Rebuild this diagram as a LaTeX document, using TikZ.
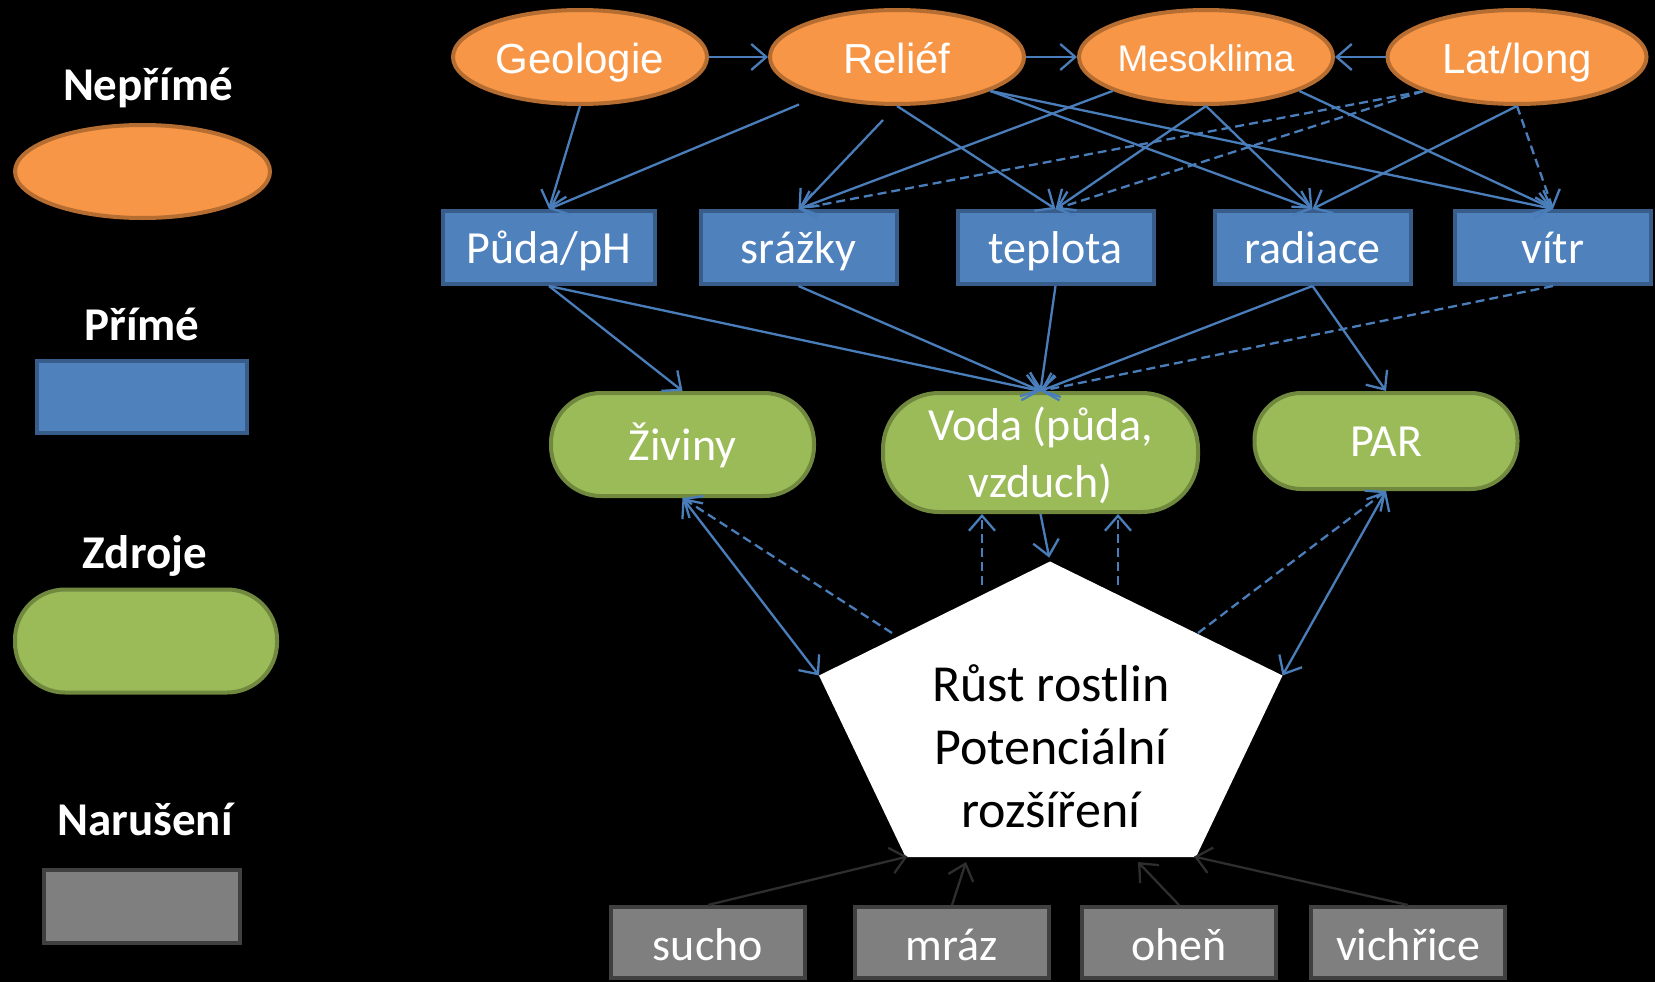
\documentclass[tikz,border=0pt]{standalone}
\usepackage{fontspec}
\setmainfont{Carlito}
\newfontfamily\arialf{Liberation Sans}
\usetikzlibrary{arrows.meta,calc,shapes.geometric}
\definecolor{orfill}{HTML}{F79646}
\definecolor{ordraw}{HTML}{B66D31}
\definecolor{blfill}{HTML}{4F81BD}
\definecolor{bldraw}{HTML}{385D8A}
\definecolor{grfill}{HTML}{9BBB59}
\definecolor{grdraw}{HTML}{71893F}
\definecolor{gyfill}{HTML}{7F7F7F}
\definecolor{gydraw}{HTML}{404040}
\definecolor{conn}{HTML}{4A7EBB}
\definecolor{dconn}{HTML}{2E2E2E}
\begin{document}
\begin{tikzpicture}[x=1pt,y=-1pt,
  >={Straight Barb[length=15pt,width=26pt]},
  indirect/.style={ellipse, fill=orfill, draw=ordraw, line width=4pt, minimum width=254pt, minimum height=94pt, inner sep=0pt, text=white, text height=32.4pt, text depth=0pt, font=\arialf\fontsize{42}{50}\selectfont},
  direct/.style={rectangle, fill=blfill, draw=bldraw, line width=4pt, minimum width=196pt, minimum height=73pt, inner sep=0pt, text=white, text height=32pt, text depth=0pt, font=\fontsize{46}{55}\selectfont},
  resource/.style={rectangle, rounded corners=50pt, fill=grfill, draw=grdraw, line width=4pt, minimum width=263pt, minimum height=103pt, inner sep=0pt, text=white, align=center, text height=31.2pt, text depth=0pt, font=\fontsize{46}{57}\selectfont},
  disturb/.style={rectangle, fill=gyfill, draw=gydraw, line width=4pt, minimum width=194pt, minimum height=71pt, inner sep=0pt, text=white, text height=36pt, text depth=0pt, font=\fontsize{46}{55}\selectfont},
  legtitle/.style={text=white, inner sep=0pt, text height=30.3pt, text depth=0pt, font=\bfseries\fontsize{47}{56}\selectfont},
  arr/.style={draw=conn, line width=2.3pt, ->},
  darr/.style={draw=dconn, line width=2.3pt, ->},
  dsh/.style={dash pattern=on 9pt off 5pt}
]
\fill[black] (0,0) rectangle (1655,982);
\useasboundingbox (0,0) rectangle (1655,982);

% legend
\node[legtitle] (lt1) at (148,85) {Nepřímé};
\node[indirect, minimum width=255pt, minimum height=93pt] (l1) at (142.5,171.5) {};
\node[legtitle] (lt2) at (142,325) {Přímé};
\node[direct, minimum width=210pt, minimum height=72pt] (l2) at (142,397) {};
\node[legtitle] (lt3) at (145,553) {Zdroje};
\node[resource, minimum width=262pt, minimum height=103pt] (l3) at (146,641) {};
\node[legtitle] (lt4) at (145,820) {Narušení};
\node[disturb, minimum width=196pt, minimum height=73pt] (l4) at (142,906) {};

% indirect factors
\node[indirect] (geo) at (580,57) {Geologie};
\node[indirect] (rel) at (897,57) {Reliéf};
\node[indirect, text height=28.5pt, font=\arialf\fontsize{37}{44}\selectfont] (meso) at (1206,57) {Mesoklima};
\node[indirect, minimum width=259pt] (lat) at (1517,57) {Lat/long};

% direct factors
\node[direct, minimum width=212pt] (puda) at (549,247.5) {Půda/pH};
\node[direct] (srazky) at (798.5,247.5) {srážky};
\node[direct] (teplota) at (1055.5,247.5) {teplota};
\node[direct] (radiace) at (1312.5,247.5) {radiace};
\node[direct] (vitr) at (1553,247.5) {vítr};

% resources
\node[resource] (ziv) at (682.5,444.5) {Živiny};
\node[resource, minimum width=315pt, minimum height=119pt, rounded corners=56pt, text height=90.2pt, text depth=0pt] (voda) at (1040.5,452.5) {Voda (půda,\\vzduch)};
\node[resource, minimum height=96pt, rounded corners=47pt] (par) at (1386,441) {PAR};

% plant growth pentagon
\coordinate (ptop) at (1050,561.5);
\coordinate (pul) at (819,675.5);
\coordinate (pur) at (1282.5,675.5);
\coordinate (pll) at (905.6,857);
\coordinate (plr) at (1196,857);
\fill[white] (ptop) -- (pur) -- (plr) -- (pll) -- (pul) -- cycle;
\node[align=center, text=black, inner sep=0pt, font=\fontsize{52}{63}\selectfont] (rust) at (1051,746) {Růst rostlin\\Potenciální\\rozšíření};

% disturbances
\node[disturb] (sucho) at (708,942.5) {sucho};
\node[disturb] (mraz) at (952,942.5) {mráz};
\node[disturb] (ohen) at (1179,942.5) {oheň};
\node[disturb] (vich) at (1408,942.5) {vichřice};

% helper coordinates
\coordinate (rb) at (799,104.5);
\coordinate (rc) at (883,120);
\coordinate (pl1) at (892,633);
\coordinate (pr1) at (1198,633);
\coordinate (dv1) at (982,585);
\coordinate (dv2) at (1118,585);
\coordinate (pm1) at (966,862);
\coordinate (pm2) at (1138,862);

% top row
\draw[arr] (geo) -- (rel);
\draw[arr] (rel) -- (meso);
\draw[arr] (lat) -- (meso);

% indirect -> direct
\draw[arr] (geo.south) -- (puda.north);
\draw[arr] (rb) -- (puda.north);
\draw[arr] (rc) -- (srazky.north);
\draw[arr] (rel.south) -- (teplota.north);
\draw[arr] (rel.-20) -- (radiace.north);
\draw[arr] (rel.-20) -- (vitr.north);
\draw[arr] (meso.200) -- (srazky.north);
\draw[arr] (meso.south) -- (teplota.north);
\draw[arr] (meso.south) -- (radiace.north);
\draw[arr] (meso.-20) -- (vitr.north);
\draw[arr] (lat.south) -- (radiace.north);
\draw[arr,dsh] (lat.south) -- (vitr.north);
\draw[arr,dsh] (lat.200) -- (srazky.north);
\draw[arr,dsh] (lat.200) -- (teplota.north);

% direct -> resources
\draw[arr] (puda.south) -- (ziv.north);
\draw[arr] (puda.south) -- (voda.north);
\draw[arr] (srazky.south) -- (voda.north);
\draw[arr] (teplota.south) -- (voda.north);
\draw[arr] (radiace.south) -- (voda.north);
\draw[arr] (radiace.south) -- (par.north);
\draw[arr,dsh] (vitr.south) -- (voda.north);

% resources <-> plant growth
\draw[arr,<->] (ziv.south) -- (pul);
\draw[arr,dsh] (pl1) -- (ziv.south);
\draw[arr,dsh] (dv1) -- (dv1 |- voda.south);
\draw[arr,dsh] (dv2) -- (dv2 |- voda.south);
\draw[arr, shorten >=4pt] (voda.south) -- (ptop);
\draw[arr,<->] (par.south) -- (pur);
\draw[arr,dsh] (pr1) -- (par.south);

% disturbances -> plant growth
\draw[darr, shorten >=-2pt] (sucho.north) -- (pll);
\draw[darr] (mraz.north) -- (pm1);
\draw[darr] (ohen.north) -- (pm2);
\draw[darr, shorten >=-2pt] (vich.north) -- (plr);
\end{tikzpicture}
\end{document}
